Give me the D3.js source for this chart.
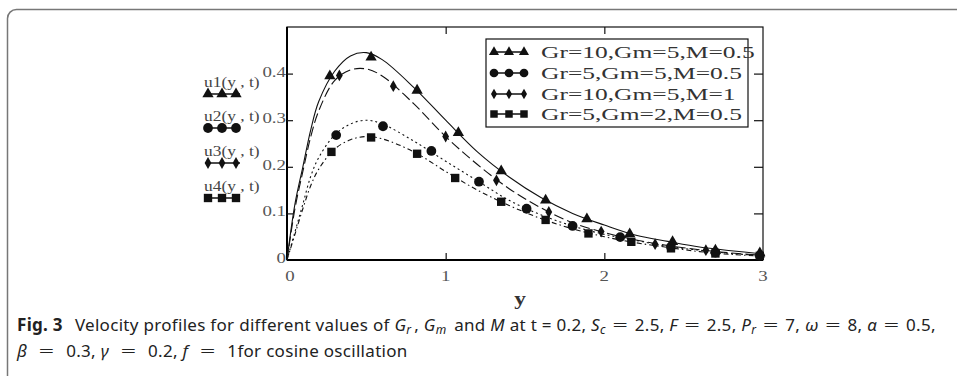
<!DOCTYPE html>
<html>
<head>
<meta charset="utf-8">
<script src="https://cdn.jsdelivr.net/npm/d3@7"></script>
<style>
  body { margin: 0; background: #fff; }
  svg text { font-family: "Liberation Serif", "DejaVu Serif", serif; }
  .cap { font-family: "Noto Sans", "Open Sans", sans-serif; fill: #222; }
</style>
</head>
<body>
<svg id="chart" width="957" height="376"></svg>
<script>
// sample positions along y and the four velocity profiles
const ys = [0, 0.05, 0.1, 0.15, 0.2, 0.3, 0.4, 0.5, 0.6, 0.8, 1.0, 1.2, 1.4, 1.6, 1.8, 2.0, 2.2, 2.4, 2.6, 2.8, 3.0];
const u1 = [0, 0.12, 0.2, 0.28, 0.34, 0.405, 0.438, 0.445, 0.43, 0.37, 0.30, 0.232, 0.178, 0.134, 0.1, 0.075, 0.053, 0.04, 0.028, 0.02, 0.013];
const u2 = [0, 0.06, 0.12, 0.18, 0.22, 0.268, 0.292, 0.30, 0.292, 0.255, 0.212, 0.17, 0.128, 0.097, 0.073, 0.055, 0.042, 0.029, 0.021, 0.014, 0.009];
const u3 = [0, 0.11, 0.19, 0.265, 0.32, 0.385, 0.408, 0.41, 0.395, 0.335, 0.265, 0.205, 0.153, 0.112, 0.08, 0.059, 0.043, 0.031, 0.022, 0.015, 0.01];
const u4 = [0, 0.055, 0.11, 0.16, 0.195, 0.238, 0.258, 0.265, 0.26, 0.232, 0.19, 0.15, 0.117, 0.089, 0.067, 0.05, 0.037, 0.027, 0.018, 0.012, 0.008];

// marker positions [y, u]
const u1Marks = [[0.27,0.395],[0.53,0.435],[0.82,0.364],[1.08,0.273],[1.35,0.191],[1.63,0.128],[1.89,0.088],[2.16,0.056],[2.43,0.039],[2.70,0.021],[2.98,0.015]];
const u2Marks = [[0.31,0.268],[0.605,0.287],[0.91,0.234],[1.21,0.168],[1.51,0.11],[1.80,0.073],[2.10,0.049],[2.42,0.028],[2.70,0.016],[2.98,0.009]];
const u3Marks = [[0.33,0.396],[0.67,0.373],[1.0,0.265],[1.32,0.171],[1.65,0.103],[1.98,0.061],[2.32,0.034],[2.64,0.021],[2.98,0.011]];
const u4Marks = [[0.28,0.232],[0.53,0.263],[0.82,0.228],[1.06,0.176],[1.35,0.125],[1.63,0.086],[1.90,0.057],[2.17,0.039],[2.42,0.025],[2.70,0.014],[2.98,0.009]];

const legendLabels = ["Gr=10,Gm=5,M=0.5", "Gr=5,Gm=5,M=0.5", "Gr=10,Gm=5,M=1", "Gr=5,Gm=2,M=0.5"];
const sideLabels = ["u1(y , t)", "u2(y , t)", "u3(y , t)", "u4(y , t)"];
const xTicks = [0, 1, 2, 3];
const yTicks = [0, 0.1, 0.2, 0.3, 0.4];

const svg = d3.select("#chart");

// outer frame
svg.append("rect")
  .attr("x", 7.5).attr("y", 9.5)
  .attr("width", 1000).attr("height", 420)
  .attr("rx", 9)
  .attr("fill", "none").attr("stroke", "#777").attr("stroke-width", 1.5);

const x = d3.scaleLinear().domain([0, 3]).range([287, 763]);
const y = d3.scaleLinear().domain([0, 0.5]).range([260, 27]);

// stretched serif text (original figure was widened)
function stext(g, px, py, str, size, sx, anchor, fill) {
  return g.append("text")
    .attr("transform", `translate(${px},${py}) scale(${sx},1)`)
    .attr("text-anchor", anchor || "start")
    .style("font-size", size + "px")
    .attr("fill", fill || "#444")
    .text(str);
}

const plot = svg.append("g");

// plot frame
plot.append("rect")
  .attr("x", x(0)).attr("y", y(0.5))
  .attr("width", x(3) - x(0)).attr("height", y(0) - y(0.5))
  .attr("fill", "none").attr("stroke", "#111").attr("stroke-width", 1.2);
plot.append("line")
  .attr("x1", x(0)).attr("x2", x(0)).attr("y1", y(0.5)).attr("y2", y(0))
  .attr("stroke", "#000").attr("stroke-width", 2);
plot.append("line")
  .attr("x1", x(0)).attr("x2", x(3)).attr("y1", y(0)).attr("y2", y(0))
  .attr("stroke", "#000").attr("stroke-width", 1.8);

// inside ticks on all four sides
const innerX = [1, 2], innerY = [0.1, 0.2, 0.3, 0.4];
function addAxis(axis, tf) {
  const g = plot.append("g").attr("transform", tf).call(axis);
  g.select(".domain").remove();
  g.selectAll("line").attr("stroke", "#111").attr("stroke-width", 1.2);
}
addAxis(d3.axisBottom(x).tickValues(innerX).tickSize(-7).tickFormat(""), `translate(0,${y(0)})`);
addAxis(d3.axisTop(x).tickValues(innerX).tickSize(-7).tickFormat(""), `translate(0,${y(0.5)})`);
addAxis(d3.axisLeft(y).tickValues(innerY).tickSize(-6).tickFormat(""), `translate(${x(0)},0)`);
addAxis(d3.axisRight(y).tickValues(innerY).tickSize(-9).tickFormat(""), `translate(${x(3)},0)`);

// tick labels
yTicks.forEach(v => stext(plot, x(0) - 1, y(v) + 3, v === 0 ? "0" : String(v), 14, 1.35, "end", "#555"));
xTicks.forEach(v => stext(plot, x(v) + (v === 0 ? 3 : 0), y(0) + 21, String(v), 14, 1.35, "middle", "#555"));

stext(svg, 520, 305, "y", 18, 1.3, "middle", "#333").style("font-weight", "bold");

// curves
const series = [
  { vals: u1, marks: u1Marks, dash: null, sym: d3.symbolTriangle, size: 55 },
  { vals: u2, marks: u2Marks, dash: "2,3", sym: d3.symbolCircle, size: 75 },
  { vals: u3, marks: u3Marks, dash: "10,4", sym: d3.symbolDiamond, size: 40 },
  { vals: u4, marks: u4Marks, dash: "5,3,1.5,3", sym: d3.symbolSquare, size: 70 }
];

const line = d3.line()
  .x(d => x(d[0])).y(d => y(d[1]))
  .curve(d3.curveCatmullRom.alpha(0.5));

series.forEach(s => {
  plot.append("path")
    .datum(ys.map((v, i) => [v, s.vals[i]]))
    .attr("d", line)
    .attr("fill", "none").attr("stroke", "#111").attr("stroke-width", 1.1)
    .attr("stroke-dasharray", s.dash);
  plot.selectAll(null)
    .data(s.marks)
    .enter().append("path")
    .attr("transform", d => `translate(${x(d[0])},${y(d[1])})`)
    .attr("d", d3.symbol().type(s.sym).size(s.size))
    .attr("fill", "#111");
});

// legend box in plot
const lg = svg.append("g");
lg.append("rect")
  .attr("x", 486).attr("y", 39).attr("width", 262).attr("height", 88)
  .attr("fill", "#fff").attr("stroke", "#111").attr("stroke-width", 1.2);
const rowY = [52, 73, 94, 114];
legendLabels.forEach((lab, i) => {
  const s = series[i];
  lg.append("line")
    .attr("x1", 492).attr("x2", 526).attr("y1", rowY[i]).attr("y2", rowY[i])
    .attr("stroke", "#111").attr("stroke-width", 1.5);
  [494, 509, 524].forEach(mx => {
    lg.append("path")
      .attr("transform", `translate(${mx},${rowY[i]})`)
      .attr("d", d3.symbol().type(s.sym).size(s.size * 0.8))
      .attr("fill", "#111");
  });
  stext(lg, 541, rowY[i] + 6, lab, 17, 1.5, "start", "#333");
});

// labels at the left of the plot
const sideY = [87, 121, 156, 191];
sideLabels.forEach((lab, i) => {
  const s = series[i];
  stext(svg, 204, sideY[i], lab, 14.5, 1.2, "start", "#444");
  const my = sideY[i] + 7;
  svg.append("line")
    .attr("x1", 205).attr("x2", 240).attr("y1", my).attr("y2", my)
    .attr("stroke", "#111").attr("stroke-width", 1.5);
  [208, 222, 236].forEach(mx => {
    svg.append("path")
      .attr("transform", `translate(${mx},${my})`)
      .attr("d", d3.symbol().type(s.sym).size(s.size))
      .attr("fill", "#111");
  });
});

// caption
function part(t, str, opts) {
  const ts = t.append("tspan").text(str);
  if (!opts) return ts;
  if (opts.b) ts.style("font-weight", "bold");
  if (opts.i) ts.style("font-style", "italic");
  if (opts.sub) ts.style("font-size", "12px").attr("dy", 3);
  if (opts.up) ts.attr("dy", -3);
  if (opts.dx) ts.attr("dx", opts.dx);
  return ts;
}
// wide math equals sign
function eq(t, gap, up) {
  const ts = t.append("tspan").text("=").attr("dx", gap)
    .style("font-family", "DejaVu Sans").style("font-size", "20px").style("font-weight", 200);
  if (up) ts.attr("dy", -3);
  return ts;
}

const c1 = svg.append("text").attr("class", "cap")
  .attr("x", 17).attr("y", 331).style("font-size", "17px").style("letter-spacing", "0.3px");
part(c1, "Fig. 3", { b: true });
part(c1, "Velocity profiles for different values of ", { dx: 12 });
part(c1, "G", { i: true }); part(c1, "r", { i: true, sub: true });
part(c1, ", ", { up: true, dx: 3 });
part(c1, "G", { i: true }); part(c1, "m", { i: true, sub: true });
part(c1, " and ", { up: true, dx: 3 }); part(c1, "M", { i: true });
part(c1, " at t = 0.2, ");
part(c1, "S", { i: true }); part(c1, "c", { i: true, sub: true });
eq(c1, 6, true); part(c1, "2.5, ", { dx: 6 });
part(c1, "F", { i: true }); eq(c1, 6); part(c1, "2.5, ", { dx: 6 });
part(c1, "P", { i: true }); part(c1, "r", { i: true, sub: true });
eq(c1, 6, true); part(c1, "7, ", { dx: 6 });
part(c1, "ω", { i: true }); eq(c1, 6); part(c1, "8, ", { dx: 6 });
part(c1, "α", { i: true }); eq(c1, 6); part(c1, "0.5,", { dx: 6 });

const c2 = svg.append("text").attr("class", "cap")
  .attr("x", 17).attr("y", 357).style("font-size", "17px").style("letter-spacing", "0.3px");
part(c2, "β", { i: true }); eq(c2, 11); part(c2, "0.3, ", { dx: 11 });
part(c2, "γ", { i: true }); eq(c2, 11); part(c2, "0.2, ", { dx: 11 });
part(c2, "f", { i: true }); eq(c2, 11); part(c2, "1for cosine oscillation", { dx: 11 });
</script>
</body>
</html>
